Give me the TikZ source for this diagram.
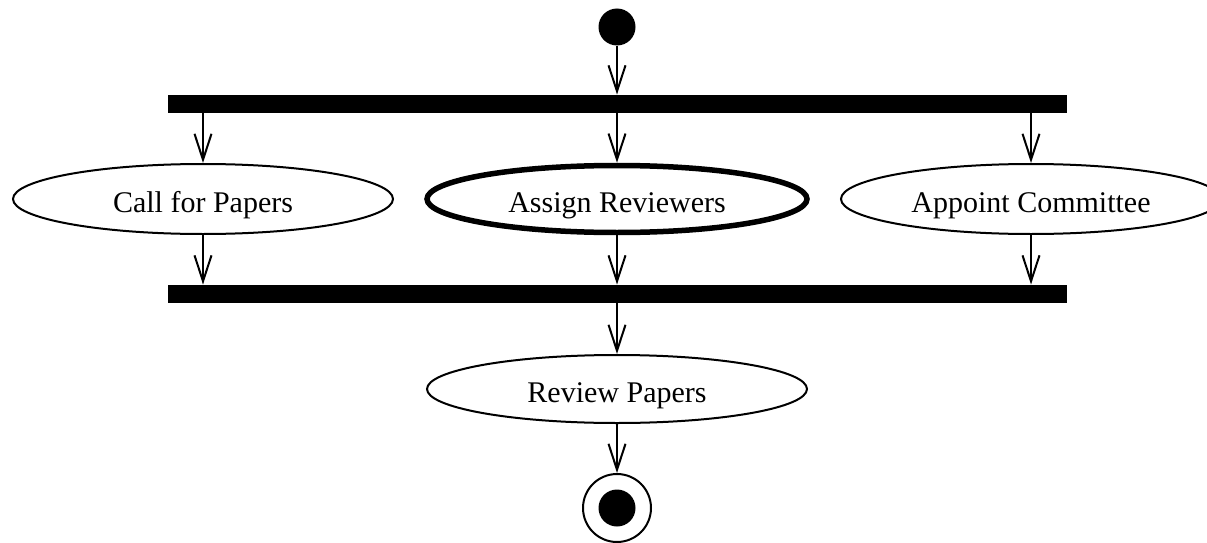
\documentclass[tikz,border=0pt]{standalone}
\usepackage{fontspec}
\setmainfont{Liberation Serif}
\usetikzlibrary{shapes.geometric,arrows.meta}
\begin{document}
\begin{tikzpicture}[x=1pt,y=-1pt,
  act/.style={draw,line width=2pt,ellipse,minimum width=380pt,minimum height=70pt,inner sep=0pt,text height=26pt,text depth=0pt,font=\fontsize{30}{36}\selectfont},
  boldact/.style={act,line width=5.5pt,minimum width=380pt,minimum height=67pt},
  bar/.style={fill=black,draw=none,minimum width=899pt,minimum height=18.5pt,inner sep=0pt},
  flow/.style={line width=2pt,-{Straight Barb[length=26pt,width=17pt,line width=2pt]}}]
\clip (0,0) rectangle (1207,543);
\node[circle,fill=black,minimum size=37pt,inner sep=0pt] (start) at (617,27) {};
\node[bar] (fork) at (617.5,104) {};
\node[act] (cfp) at (203,199) {Call for Papers};
\node[boldact] (ar) at (617,199) {Assign Reviewers};
\node[act] (ac) at (1031,199) {Appoint Committee};
\node[bar] (join) at (617.5,294) {};
\node[act,minimum height=68pt] (rp) at (617,389) {Review Papers};
\node[circle,draw,line width=2pt,minimum size=68pt,inner sep=0pt] (end) at (617,508) {};
\node[circle,fill=black,minimum size=37pt,inner sep=0pt] (endin) at (end.center) {};
\draw[flow] (start) -- (start |- fork.north);
\draw[flow] (fork.south -| cfp.north) -- (cfp.north);
\draw[flow] (fork.south -| ar.north) -- (ar.north);
\draw[flow] (fork.south -| ac.north) -- (ac.north);
\draw[flow] (cfp.south) -- (cfp.south |- join.north);
\draw[flow] (ar.south) -- (ar.south |- join.north);
\draw[flow] (ac.south) -- (ac.south |- join.north);
\draw[flow] (join.south -| rp.north) -- (rp.north);
\draw[flow] (rp.south) -- (end.north);
\end{tikzpicture}
\end{document}
